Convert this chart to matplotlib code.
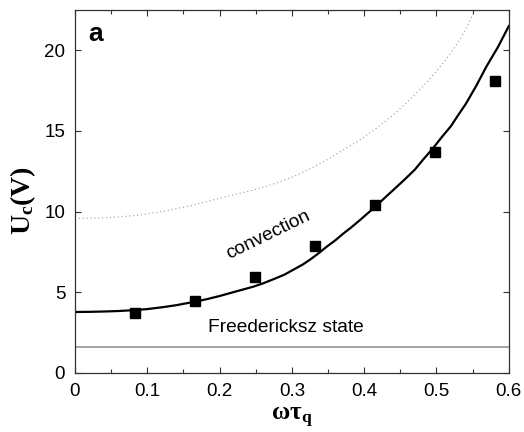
import matplotlib
matplotlib.use("Agg")
import matplotlib.pyplot as plt
from matplotlib.ticker import MultipleLocator

plt.rcParams['font.family'] = ['Liberation Sans', 'DejaVu Sans']
plt.rcParams['mathtext.fontset'] = 'custom'
plt.rcParams['mathtext.rm'] = 'Liberation Serif'
plt.rcParams['mathtext.bf'] = 'Liberation Serif:bold'
plt.rcParams['mathtext.it'] = 'Liberation Serif:italic'

# experimental points
data_x = [0.083, 0.166, 0.249, 0.332, 0.415, 0.498, 0.581]
data_y = [3.7, 4.45, 5.95, 7.9, 10.4, 13.7, 18.1]

# theory (solid) curve
theory_x = [0.0, 0.02, 0.04, 0.06, 0.08, 0.10, 0.12, 0.14, 0.166, 0.18, 0.2, 0.22,
            0.246, 0.26, 0.275, 0.29, 0.302, 0.315, 0.325, 0.337, 0.348, 0.36,
            0.37, 0.382, 0.394, 0.407, 0.42, 0.43, 0.44, 0.455, 0.47, 0.482,
            0.495, 0.507, 0.52, 0.53, 0.541, 0.555, 0.569, 0.585, 0.6]
theory_y = [3.78, 3.79, 3.81, 3.84, 3.89, 3.96, 4.07, 4.2, 4.42, 4.55, 4.77, 5.02,
            5.34, 5.55, 5.82, 6.1, 6.4, 6.72, 7.02, 7.42, 7.82, 8.22,
            8.6, 9.02, 9.47, 9.98, 10.5, 10.92, 11.33, 11.95, 12.6, 13.25,
            13.92, 14.6, 15.3, 15.98, 16.71, 17.8, 18.99, 20.2, 21.5]

# convection (dotted) curve
conv_x = [0.0, 0.045, 0.089, 0.125, 0.163, 0.2, 0.246, 0.275, 0.302, 0.325, 0.348,
          0.37, 0.394, 0.418, 0.44, 0.456, 0.472, 0.489, 0.505, 0.52, 0.532, 0.542,
          0.551]
conv_y = [9.58, 9.62, 9.78, 10.05, 10.4, 10.83, 11.33, 11.72, 12.16, 12.65, 13.2,
          13.8, 14.44, 15.2, 15.99, 16.64, 17.33, 18.13, 18.98, 19.85, 20.64,
          21.45, 22.3]

freedericksz_level = 1.6

fig = plt.figure(figsize=(5.24, 4.32), dpi=100)
ax = fig.add_axes([0.143, 0.1366, 0.828, 0.8404])

ax.axhline(freedericksz_level, color='#8a8a8a', lw=1.1)
ax.plot(conv_x, conv_y, color='#999999', lw=0.8, ls=(0, (1, 2.5)))
ax.plot(theory_x, theory_y, color='black', lw=1.6)
ax.plot(data_x, data_y, ls='none', marker='s', ms=7, color='black')

ax.set_xlim(0, 0.6)
ax.set_ylim(0, 22.5)
ax.xaxis.set_major_locator(MultipleLocator(0.1))
ax.xaxis.set_minor_locator(MultipleLocator(0.05))
ax.yaxis.set_major_locator(MultipleLocator(5))
ax.set_xticks([0, 0.1, 0.2, 0.3, 0.4, 0.5, 0.6])
ax.set_xticklabels(['0', '0.1', '0.2', '0.3', '0.4', '0.5', '0.6'])
ax.tick_params(which='both', direction='in', top=True, right=True, labelsize=13.5,
               color='#333333', width=0.8)
ax.tick_params(which='major', length=4.5, pad=7)
ax.tick_params(which='minor', length=3)
for s in ax.spines.values():
    s.set_color('#333333')
    s.set_linewidth(0.9)

ax.text(0.028, 21.0, 'a', fontsize=19, fontweight='bold', ha='center', va='center')
ax.text(0.267, 8.56, 'convection', fontsize=13.8, rotation=26, ha='center', va='center',
        rotation_mode='anchor')
ax.text(0.292, 2.85, 'Freedericksz state', fontsize=13.8, ha='center', va='center')

fig.text(0.557, 0.028, r'ωτ$_\mathbf{q}$', fontsize=18, fontweight='bold',
         family='Liberation Serif', ha='center', va='baseline')
fig.text(0.058, 0.535, r'U$_\mathbf{c}$(V)', fontsize=20, fontweight='bold',
         family='Liberation Serif', ha='center', va='baseline', rotation=90,
         rotation_mode='anchor')

fig.savefig('out.png', dpi=100)
